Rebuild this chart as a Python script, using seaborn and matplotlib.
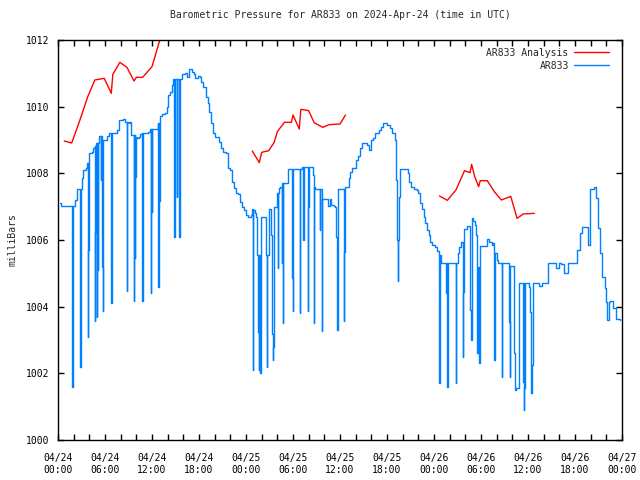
import numpy as np
import pandas as pd
import matplotlib
matplotlib.use("Agg")
import matplotlib.pyplot as plt
from matplotlib.lines import Line2D
import seaborn as sns

# ================= data (hours since 2024-04-24 00:00 UTC) =================
analysis_hours = [0.8, 1.75, 2.8, 3.8, 4.7, 5.9, 6.8, 7.0, 7.9, 8.8, 9.7, 10.0, 10.8, 12.0, 13.0,
                  24.8, 25.7, 26.0, 26.9, 27.6, 28.0, 28.9, 29.8, 30.0, 30.8, 31.0, 32.0, 32.7, 33.8, 34.6, 36.0, 36.7,
                  48.7, 49.7, 50.8, 51.9, 52.6, 52.8, 53.2, 53.7, 53.9, 54.8, 55.7, 56.6, 57.8, 58.6, 59.4, 60.8]
analysis_mb = [1008.97, 1008.91, 1009.6, 1010.3, 1010.8, 1010.85, 1010.4, 1010.97, 1011.33, 1011.18, 1010.77, 1010.88, 1010.88, 1011.2, 1012.0,
               1008.67, 1008.32, 1008.63, 1008.68, 1008.93, 1009.25, 1009.53, 1009.53, 1009.75, 1009.33, 1009.92, 1009.88, 1009.52, 1009.38, 1009.46, 1009.48, 1009.75,
               1007.32, 1007.19, 1007.5, 1008.08, 1008.02, 1008.27, 1007.9, 1007.6, 1007.78, 1007.78, 1007.45, 1007.2, 1007.31, 1006.65, 1006.78, 1006.8]
analysis_run = [1] * 15 + [2] * 17 + [3] * 16

station_hours = [0.25, 0.4, 1.85, 1.9, 1.95, 2.2, 2.4, 2.85, 2.9, 2.95, 3.05, 3.25, 3.6, 3.72, 3.8, 3.85, 3.9,
                 4.0, 4.3, 4.5, 4.7, 4.72, 4.78, 4.84, 4.9, 4.98, 5.03, 5.1, 5.15, 5.28, 5.45, 5.5, 5.65, 5.7, 5.78,
                 6.0, 6.2, 6.5, 6.8, 6.85, 6.9, 7.2, 7.5, 7.8, 8.35, 8.6, 8.75, 8.8, 8.85,
                 9.0, 9.2, 9.35, 9.5, 9.7, 9.75, 9.82, 9.87, 9.92, 10.05, 10.3, 10.5, 10.75, 10.78, 10.83, 10.9,
                 11.5, 11.8, 11.85, 11.9, 11.98, 12.03, 12.6, 12.8, 12.82, 12.88, 12.93, 12.98,
                 13.25, 13.6, 13.87, 14.1, 14.3, 14.5, 14.7, 14.85, 14.9, 15.2, 15.25, 15.5, 15.55,
                 15.8, 16.2, 16.5, 16.77, 17.05, 17.4, 17.55, 17.83, 18.1, 18.3, 18.55, 18.85, 19.1, 19.3, 19.55, 19.75, 20.0,
                 20.3, 20.5, 20.8, 21.1, 21.5, 21.74, 22.0, 22.26, 22.47, 22.7, 23.0, 23.2, 23.45, 23.7, 24.0, 24.3, 24.6, 24.8,
                 24.85, 24.92, 25.1, 25.3,
                 25.45, 25.55, 25.6, 25.65, 25.72, 25.78, 25.85, 25.9, 25.95,
                 26.5, 26.55, 26.65, 26.72, 26.9, 27.15, 27.2, 27.3, 27.38, 27.45, 27.5, 27.55, 27.6,
                 27.95, 28.05, 28.1, 28.2, 28.4, 28.55, 28.6, 28.7, 28.75,
                 29.4, 29.8, 29.85, 29.9, 29.95, 30.0, 30.05,
                 30.85, 30.9, 30.95, 31.2, 31.3, 31.35,
                 31.9, 31.95, 32.0, 32.4, 32.6, 32.65, 32.7, 32.8, 33.4, 33.45, 33.5, 33.7, 33.75, 34.3, 34.5, 34.7, 34.9,
                 35.2, 35.4, 35.5, 35.6, 35.7, 36.4, 36.5, 36.55, 36.6, 37.0, 37.1, 37.3, 37.5, 37.8, 38.0, 38.3,
                 38.5, 38.8, 39.4, 39.7, 39.96, 40.2, 40.5, 41.0, 41.2, 41.5, 41.96, 42.4, 42.7, 43.0, 43.15, 43.2, 43.3,
                 43.4, 43.45, 43.55, 43.7, 44.3, 44.7, 44.85, 45.0, 45.4, 45.8, 46.0, 46.2, 46.45, 46.7, 46.9, 47.06,
                 47.3, 47.5, 47.7, 48.1, 48.35, 48.6,
                 48.7, 48.75, 48.8, 48.9, 49.55, 49.6, 49.65, 49.72, 49.8, 50.7, 50.75, 50.8, 51.0, 51.2, 51.5,
                 51.65, 51.75, 51.85, 52.2, 52.55, 52.6, 52.7, 52.8, 53.0, 53.2, 53.35, 53.45, 53.55, 53.6, 53.7, 53.8,
                 53.88, 54.4, 54.8, 55.0, 55.4, 55.55, 55.7, 55.75, 55.8, 56.0, 56.2, 56.65, 56.7, 57.5, 57.6, 57.65,
                 57.75, 58.15, 58.2, 58.3, 58.4, 58.5, 58.8, 59.2, 59.3, 59.4, 59.45, 59.5, 59.55, 59.6,
                 59.9, 60.1, 60.2, 60.35, 60.45, 60.7, 61.3, 61.45, 61.75, 62.2, 62.5, 63.2, 63.6, 63.9, 64.2, 64.6,
                 65.1, 66.0, 66.3, 66.6, 66.9, 67.5, 67.7, 67.9, 68.4, 68.7, 68.9, 69.2, 69.5, 69.8, 70.0, 70.1,
                 70.3, 70.5, 70.9, 71.2, 71.7]
station_mb = [1007.1, 1007.02, 1001.58, 1004.3, 1007.02, 1007.2, 1007.53, 1002.2, 1005.0, 1007.53, 1007.87, 1008.1, 1008.15, 1008.3, 1003.1, 1005.7, 1008.3,
              1008.6, 1008.65, 1008.75, 1008.82, 1003.58, 1006.25, 1008.82, 1008.9, 1003.7, 1008.9, 1005.1, 1008.9, 1009.13, 1007.8, 1009.13, 1005.2, 1003.87, 1009.0,
              1009.0, 1009.13, 1009.2, 1004.1, 1006.67, 1009.2, 1009.2, 1009.3, 1009.6, 1009.62, 1009.55, 1004.48, 1006.9, 1009.55,
              1009.5, 1009.53, 1009.15, 1009.15, 1004.18, 1009.15, 1005.45, 1007.9, 1009.1, 1009.05, 1009.1, 1009.18, 1009.2, 1004.18, 1006.7, 1009.2,
              1009.25, 1009.32, 1004.4, 1009.32, 1006.85, 1009.32, 1009.32, 1009.5, 1004.6, 1009.5, 1007.18, 1009.72,
              1009.78, 1009.82, 1010.0, 1010.35, 1010.45, 1010.65, 1010.83, 1006.1, 1010.83, 1007.3, 1010.83, 1006.1, 1010.83,
              1010.97, 1011.0, 1010.9, 1011.12, 1011.05, 1010.97, 1010.85, 1010.92, 1010.88, 1010.75, 1010.6, 1010.3, 1010.1, 1009.85, 1009.5, 1009.2, 1009.1,
              1009.1, 1008.95, 1008.75, 1008.65, 1008.6, 1008.15, 1008.1, 1007.75, 1007.55, 1007.4, 1007.37, 1007.15, 1007.0, 1006.9, 1006.75, 1006.7, 1006.75, 1006.93,
              1002.1, 1006.9, 1006.8, 1006.7,
              1005.55, 1003.25, 1005.55, 1002.1, 1005.55, 1003.25, 1002.0, 1003.25, 1006.7,
              1006.7, 1005.55, 1002.2, 1005.55, 1006.93, 1006.93, 1006.15, 1004.65, 1003.17, 1002.4, 1002.8, 1005.6, 1007.0,
              1007.4, 1005.17, 1007.4, 1007.55, 1007.6, 1005.3, 1007.7, 1003.5, 1007.7,
              1008.13, 1008.13, 1006.2, 1004.85, 1006.0, 1003.88, 1008.13,
              1003.8, 1005.0, 1008.13, 1008.2, 1006.0, 1008.2,
              1003.88, 1007.0, 1008.2, 1008.2, 1007.95, 1003.5, 1007.6, 1007.53, 1007.53, 1006.3, 1007.53, 1003.28, 1007.22, 1007.22, 1007.02, 1007.22, 1007.05,
              1007.02, 1007.0, 1006.1, 1003.3, 1007.53, 1007.53, 1003.58, 1005.65, 1007.6, 1007.6, 1007.85, 1008.05, 1008.15, 1008.15, 1008.4, 1008.53,
              1008.75, 1008.9, 1008.85, 1008.7, 1009.0, 1009.05, 1009.2, 1009.3, 1009.4, 1009.5, 1009.45, 1009.35, 1009.2, 1009.0, 1008.9, 1007.8, 1006.0,
              1004.78, 1006.0, 1007.3, 1008.12, 1008.12, 1008.0, 1007.75, 1007.6, 1007.53, 1007.5, 1007.4, 1007.1, 1006.93, 1006.7, 1006.5, 1006.3,
              1006.15, 1005.95, 1005.85, 1005.8, 1005.67, 1005.55,
              1001.7, 1003.6, 1005.55, 1005.3, 1004.4, 1005.3, 1002.55, 1001.6, 1005.3, 1005.3, 1001.7, 1005.3, 1005.6, 1005.8, 1005.95,
              1002.5, 1004.45, 1006.32, 1006.42, 1006.42, 1003.9, 1003.0, 1006.65, 1006.57, 1006.45, 1006.15, 1003.55, 1002.6, 1005.2, 1003.2, 1002.3,
              1005.83, 1005.83, 1006.03, 1005.95, 1005.85, 1005.9, 1002.4, 1003.85, 1005.6, 1005.4, 1005.3, 1001.9, 1005.3, 1005.3, 1003.55, 1001.9,
              1005.22, 1005.22, 1002.6, 1001.6, 1001.5, 1001.55, 1004.7, 1004.7, 1004.55, 1001.75, 1004.7, 1000.9, 1001.55, 1004.7,
              1004.7, 1004.6, 1003.85, 1001.4, 1002.25, 1004.7, 1004.7, 1004.63, 1004.7, 1004.7, 1005.3, 1005.3, 1005.15, 1005.3, 1005.27, 1005.0,
              1005.3, 1005.3, 1005.7, 1006.2, 1006.4, 1006.4, 1005.85, 1007.53, 1007.6, 1007.25, 1006.35, 1005.6, 1004.9, 1004.55, 1004.15, 1003.6,
              1004.15, 1004.18, 1003.95, 1003.63, 1003.6]

tick_hours = [0, 6, 12, 18, 24, 30, 36, 42, 48, 54, 60, 66, 72]
tick_labels = ["04/24\n00:00", "04/24\n06:00", "04/24\n12:00", "04/24\n18:00",
               "04/25\n00:00", "04/25\n06:00", "04/25\n12:00", "04/25\n18:00",
               "04/26\n00:00", "04/26\n06:00", "04/26\n12:00", "04/26\n18:00",
               "04/27\n00:00"]
y_ticks = [1000, 1002, 1004, 1006, 1008, 1010, 1012]

RED = "#ff0000"
BLUE = "#0080ff"

sns.set_theme(style="ticks")
plt.rcParams['font.family'] = ['DejaVu Sans Mono']
plt.rcParams['font.size'] = 7

analysis = pd.DataFrame({"hour": analysis_hours, "mb": analysis_mb, "run": analysis_run})
station = pd.DataFrame({"hour": station_hours, "mb": station_mb})

fig = plt.figure(figsize=(6.4, 4.8), dpi=100)
ax = fig.add_axes([58 / 640, 40 / 480, 564 / 640, 400 / 480])

sns.lineplot(data=analysis, x="hour", y="mb", units="run", estimator=None, sort=False,
             color=RED, lw=1.0, ax=ax)
sns.lineplot(data=station, x="hour", y="mb", estimator=None, sort=False,
             color=BLUE, lw=1.0, drawstyle="steps-post", ax=ax)

ax.set_xlim(0, 72)
ax.set_ylim(1000, 1012)
ax.set_xticks(tick_hours)
ax.set_xticklabels(tick_labels, linespacing=1.35)
ax.set_xticks(np.arange(0, 73, 2), minor=True)
ax.set_yticks(y_ticks)
ax.set_yticklabels([str(v) for v in y_ticks])
ax.tick_params(axis="both", which="both", direction="in", top=True, right=True,
               length=4, width=1, labelsize=7, colors="black", pad=6)
ax.tick_params(axis="x", which="major", pad=9)
for s in ax.spines.values():
    s.set_visible(True)
    s.set_color("black")
    s.set_linewidth(1)
ax.set_xlabel("")
ax.set_ylabel("milliBars", fontsize=7, labelpad=6)
ax.set_title("Barometric Pressure for AR833 on 2024-Apr-24 (time in UTC)", fontsize=7, pad=16)

handles = [Line2D([], [], color=RED, lw=1.0), Line2D([], [], color=BLUE, lw=1.0)]
ax.legend(handles, ["AR833 Analysis", "AR833"], loc="upper right", bbox_to_anchor=(0.99, 1.0),
          frameon=False, markerfirst=False, handlelength=3.6, handletextpad=0.5,
          labelspacing=0.3, borderpad=0.3, fontsize=7)

fig.savefig("out.png", dpi=100, facecolor="white")
